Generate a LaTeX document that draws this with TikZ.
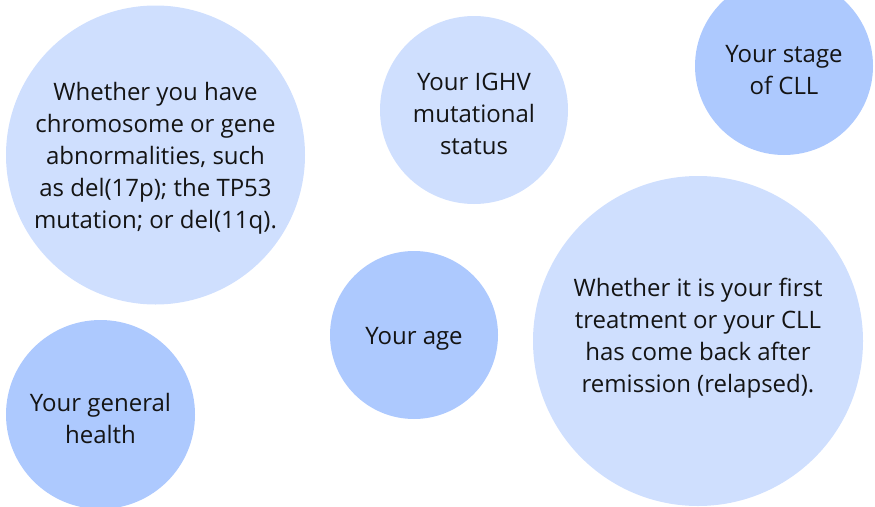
\documentclass[tikz,border=0pt]{standalone}
\usepackage{fontspec}
\setmainfont{Open Sans}[Ligatures=NoCommon]
\definecolor{bublight}{RGB}{207,223,254}
\definecolor{bubdark}{RGB}{173,201,254}
\definecolor{txtcol}{RGB}{20,20,20}
\begin{document}
\begin{tikzpicture}[x=1pt,y=-1pt,
  bub/.style={circle,inner sep=0pt,draw=none},
  txt/.style={align=center,text=txtcol,font=\fontsize{24}{32}\selectfont,inner sep=0pt}]
\useasboundingbox (0,0) rectangle (875,506);
\begin{scope}
\clip (0,0) rectangle (875,506);
\node[bub,fill=bublight,minimum size=299pt] (c1) at (155.5,155) {};
\node[bub,fill=bublight,minimum size=188pt] (c2) at (474,110) {};
\node[bub,fill=bubdark,minimum size=178pt] (c3) at (784,66) {};
\node[bub,fill=bubdark,minimum size=168pt] (c4) at (414,335) {};
\node[bub,fill=bublight,minimum size=330pt] (c5) at (698,341) {};
\node[bub,fill=bubdark,minimum size=189pt] (c6) at (100.5,414.5) {};
\end{scope}
\node[txt] (t1) at (155.5,158.5) {Whether you have\\chromosome or gene\\abnormalities, such\\as del(17p); the TP53\\mutation; or del(11q).};
\node[txt] (t2) at (474,113.5) {Your IGHV\\mutational\\status};
\node[txt] (t3) at (784,70) {Your stage\\of CLL};
\node[txt] (t4) at (414,338.5) {Your age};
\node[txt] (t5) at (698,338.5) {Whether it is your first\\treatment or your CLL\\has come back after\\remission (relapsed).};
\node[txt] (t6) at (100.5,418) {Your general\\health};
\end{tikzpicture}
\end{document}
